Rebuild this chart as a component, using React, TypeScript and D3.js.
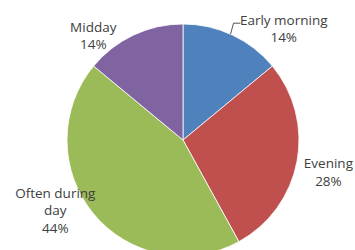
import { useEffect, useRef } from 'react';
import * as d3 from 'd3';

// slice data, clockwise from 12 o'clock
const categories = ['Early morning', 'Evening', 'Often during day', 'Midday'];
const values = [14, 28, 44, 14];
const labelLines = [['Early morning'], ['Evening'], ['Often during', 'day'], ['Midday']];
const palette = ['#4F81BD', '#C0504D', '#9BBB59', '#8064A2'];

export default function App() {
  const svgRef = useRef<SVGSVGElement>(null);

  useEffect(() => {
    if (!svgRef.current) return;
    d3.select(svgRef.current).selectAll('*').remove();

    const width = 355;
    const height = 250;
    const cx = 183;
    const cy = 140;
    const radius = 116;

    const svg = d3
      .select(svgRef.current)
      .attr('width', width)
      .attr('height', height)
      .style('background', '#fff');

    const g = svg.append('g').attr('transform', `translate(${cx},${cy})`);

    const data = categories.map((c, i) => ({ name: c, value: values[i], lines: labelLines[i] }));
    const total = d3.sum(values);

    const pie = d3
      .pie<{ name: string; value: number; lines: string[] }>()
      .value((d) => d.value)
      .sort(null);

    const arc = d3
      .arc<d3.PieArcDatum<{ name: string; value: number; lines: string[] }>>()
      .innerRadius(0)
      .outerRadius(radius);

    const arcs = pie(data);

    g.selectAll('path.slice')
      .data(arcs)
      .enter()
      .append('path')
      .attr('class', 'slice')
      .attr('d', arc)
      .attr('fill', (d, i) => palette[i])
      .attr('stroke', '#fff')
      .attr('stroke-width', 0.8);

    // labels: Excel-style dragged labels, placed from a label arc plus a nudge
    const labelArc = d3
      .arc<d3.PieArcDatum<{ name: string; value: number; lines: string[] }>>()
      .innerRadius(radius * 1.25)
      .outerRadius(radius * 1.25);
    const nudges: [number, number][] = [
      [39, 20],
      [3, 5],
      [-16, -22],
      [-28, 27],
    ];

    const lineH = 17.5;
    arcs.forEach((d, i) => {
      const [lx, ly] = labelArc.centroid(d);
      const x = lx + nudges[i][0];
      const y = ly + nudges[i][1];
      const lines = [...d.data.lines, `${Math.round((d.data.value / total) * 100)}%`];
      const top = y - ((lines.length - 1) * lineH) / 2;
      const t = g
        .append('text')
        .attr('text-anchor', 'middle')
        .attr('font-family', '"Open Sans", sans-serif')
        .attr('font-size', 13.5)
        .attr('fill', '#404040');
      lines.forEach((ln, j) => {
        t.append('tspan')
          .attr('x', x)
          .attr('y', top + j * lineH)
          .attr('dy', '0.35em')
          .text(ln);
      });
    });

    // leader line for the early morning label
    const first = arcs[0];
    const edgeArc = d3
      .arc<d3.PieArcDatum<{ name: string; value: number; lines: string[] }>>()
      .innerRadius(radius)
      .outerRadius(radius);
    const startAngle = first.startAngle + (first.endAngle - first.startAngle) * 0.48;
    const [ex, ey] = edgeArc.centroid({ ...first, startAngle, endAngle: startAngle });
    g.append('path')
      .attr('d', d3.line()([[ex, ey], [ex + 3, ey - 11], [ex + 10, ey - 11]]))
      .attr('fill', 'none')
      .attr('stroke', '#404040')
      .attr('stroke-width', 0.9);
  }, []);

  return (
    <div style={{ position: 'absolute', left: 0, top: 0 }}>
      <svg ref={svgRef}></svg>
    </div>
  );
}
